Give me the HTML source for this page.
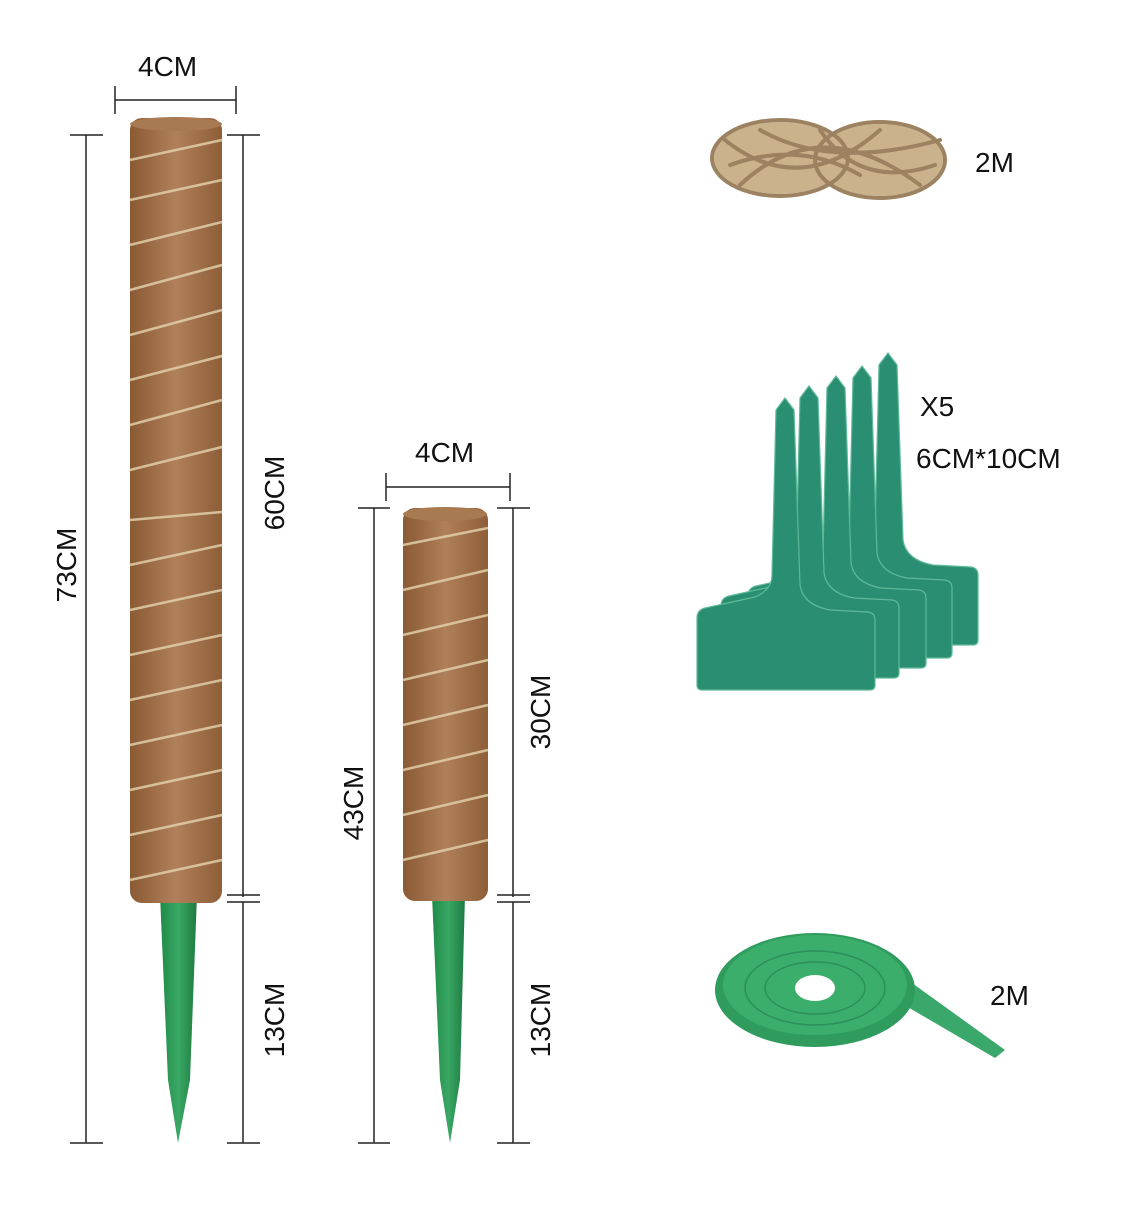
<!DOCTYPE html>
<html><head><style>
body{margin:0;background:#fff;width:1137px;height:1200px;overflow:hidden}
svg text{font-family:"Liberation Sans",sans-serif;font-size:28px;fill:#111}
</style></head><body>
<svg width="1137" height="1200" xmlns="http://www.w3.org/2000/svg">
<defs>
<linearGradient id="coir" x1="0" x2="1">
<stop offset="0" stop-color="#8a5a34"/><stop offset="0.5" stop-color="#b0805a"/><stop offset="1" stop-color="#8d5e38"/>
</linearGradient>
<linearGradient id="spike" x1="0" x2="1">
<stop offset="0" stop-color="#1f8a48"/><stop offset="0.5" stop-color="#3aa865"/><stop offset="1" stop-color="#1d7a40"/>
</linearGradient>
<path id="lab" d="M785,398 L794,410 L800,585 Q803,605 830,610 L868,612 Q875,613 875,620 L875,685 Q875,690 870,690 L702,690 Q697,690 697,685 L697,618 Q697,610 705,608 L755,597 Q772,590 772,575 L776,410 Z"/>
</defs>
<g stroke="#222" stroke-width="1.5" fill="none">
<line x1="115" y1="100" x2="236" y2="100"/><line x1="115" y1="86" x2="115" y2="114"/><line x1="236" y1="86" x2="236" y2="114"/>
<line x1="86" y1="135" x2="86" y2="1143"/><line x1="70" y1="135" x2="103" y2="135"/><line x1="70" y1="1143" x2="103" y2="1143"/>
<line x1="243" y1="135" x2="243" y2="897"/><line x1="227" y1="135" x2="260" y2="135"/><line x1="227" y1="895" x2="260" y2="895"/>
<line x1="243" y1="902" x2="243" y2="1143"/><line x1="227" y1="902" x2="260" y2="902"/><line x1="227" y1="1143" x2="260" y2="1143"/>
<line x1="386" y1="487" x2="510" y2="487"/><line x1="386" y1="473" x2="386" y2="501"/><line x1="510" y1="473" x2="510" y2="501"/>
<line x1="374" y1="508" x2="374" y2="1143"/><line x1="358" y1="508" x2="390" y2="508"/><line x1="358" y1="1143" x2="390" y2="1143"/>
<line x1="513" y1="508" x2="513" y2="897"/><line x1="497" y1="508" x2="530" y2="508"/><line x1="497" y1="895" x2="530" y2="895"/>
<line x1="513" y1="902" x2="513" y2="1143"/><line x1="497" y1="902" x2="530" y2="902"/><line x1="497" y1="1143" x2="530" y2="1143"/>
</g>
<path d="M160,895 L197,895 L190,1080 L178,1143 L168,1080 Z" fill="url(#spike)"/>
<rect x="130" y="118" width="92" height="785" rx="12" fill="url(#coir)"/>
<ellipse cx="176" cy="124" rx="46" ry="7" fill="#a87a52"/>
<g stroke="#e0cfa8" stroke-width="2.5" fill="none" opacity="0.85">
<path d="M130,160 L222,140 M130,200 L222,180 M130,245 L222,222 M130,290 L222,265 M130,335 L222,310 M130,380 L222,356 M130,425 L222,400 M130,470 L222,447 M130,520 L222,512 M130,565 L222,545 M130,610 L222,590 M130,655 L222,635 M130,700 L222,680 M130,745 L222,725 M130,790 L222,770 M130,835 L222,815 M130,880 L222,860"/>
</g>
<path d="M432,895 L465,895 L460,1080 L450,1143 L440,1080 Z" fill="url(#spike)"/>
<rect x="403" y="508" width="85" height="393" rx="12" fill="url(#coir)"/>
<ellipse cx="445" cy="514" rx="42" ry="7" fill="#a87a52"/>
<g stroke="#e0cfa8" stroke-width="2.5" fill="none" opacity="0.85">
<path d="M403,545 L488,528 M403,590 L488,570 M403,635 L488,615 M403,680 L488,660 M403,725 L488,705 M403,770 L488,750 M403,815 L488,795 M403,860 L488,840"/>
</g>
<!-- twine -->
<ellipse cx="780" cy="158" rx="66" ry="36" fill="#c9b28c"/>
<ellipse cx="880" cy="160" rx="63" ry="36" fill="#c9b28c"/>
<g fill="none" stroke="#9c8260" stroke-width="4" stroke-linecap="round">
<ellipse cx="780" cy="158" rx="68" ry="38"/>
<ellipse cx="880" cy="160" rx="65" ry="38"/>
<path d="M725,140 Q800,200 880,130 M740,185 Q820,110 920,185 M760,130 Q830,170 940,140 M730,165 Q800,140 860,175 M820,130 Q860,190 935,165"/>
</g>
<g fill="#2a8f72" stroke="#5fb89a" stroke-width="1.2">
<use href="#lab" transform="translate(103,-45)"/>
<use href="#lab" transform="translate(77,-32)"/>
<use href="#lab" transform="translate(51,-22)"/>
<use href="#lab" transform="translate(24,-12)"/>
<use href="#lab"/>
</g>
<path d="M880,960 L1005,1050 L995,1058 L870,985 Z" fill="#3aa86a"/>
<ellipse cx="815" cy="990" rx="100" ry="57" fill="#2f9c5e"/>
<ellipse cx="815" cy="985" rx="92" ry="50" fill="#3cae6c"/>
<g fill="none" stroke="#2c9058" stroke-width="1.5">
<ellipse cx="815" cy="988" rx="70" ry="37"/><ellipse cx="815" cy="988" rx="50" ry="26"/>
</g>
<ellipse cx="815" cy="988" rx="20" ry="13" fill="#fff"/>
<text x="138" y="76">4CM</text>
<text x="415" y="462">4CM</text>
<text transform="translate(76,565) rotate(-90)" text-anchor="middle">73CM</text>
<text transform="translate(284,493) rotate(-90)" text-anchor="middle">60CM</text>
<text transform="translate(284,1020) rotate(-90)" text-anchor="middle">13CM</text>
<text transform="translate(363,803) rotate(-90)" text-anchor="middle">43CM</text>
<text transform="translate(550,712) rotate(-90)" text-anchor="middle">30CM</text>
<text transform="translate(550,1020) rotate(-90)" text-anchor="middle">13CM</text>
<text x="975" y="172">2M</text>
<text x="920" y="416">X5</text>
<text x="916" y="468">6CM*10CM</text>
<text x="990" y="1005">2M</text>
</svg>
</body></html>
